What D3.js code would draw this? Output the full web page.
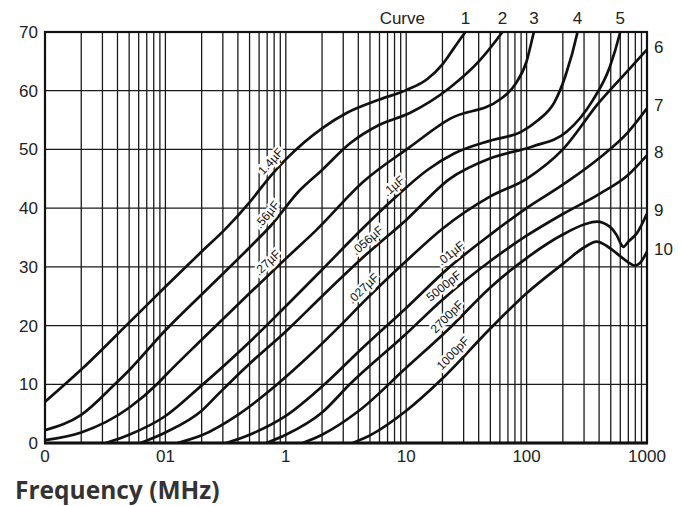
<!DOCTYPE html>
<html>
<head>
<meta charset="utf-8">
<script src="https://cdn.jsdelivr.net/npm/d3@7"></script>
<style>
  body { margin: 0; background: #fff; }
  svg { display: block; }
</style>
</head>
<body>
<div id="chart"></div>
<script>
// tick labels as printed on the original (the "0" / "01" typos are kept)
var freqTicks = [0.01, 0.1, 1, 10, 100, 1000];
var freqTickLabels = ["0", "01", "1", "10", "100", "1000"];
var dbTicks = [0, 10, 20, 30, 40, 50, 60, 70];

// curve names / capacitances
var curveNums = [1, 2, 3, 4, 5, 6, 7, 8, 9, 10];
var capLabels = ["1.4\u00b5F", ".56\u00b5F", ".27\u00b5F", ".1\u00b5F", ".056\u00b5F",
                 ".027\u00b5F", ".01\u00b5F", "5000pF", "2700pF", "1000pF"];
// frequency (MHz) on each curve next to which its capacitance label is written
var labelFreq = [0.86, 0.81, 0.8, 8.9, 5.4, 5.0, 26.4, 23.1, 24.9, 28];

// insertion loss curves: [frequency MHz, dB]
var curve1 = [[0.01,7],[0.02,12.5],[0.05,20.5],[0.1,26.6],[0.2,32.6],[0.32,36.6],[0.5,41],[0.75,45.5],[1,48.3],[2,53.6],[3.2,56.2],[6,58.5],[10,60.1],[15,62],[20,64.5],[25,67.3],[31,70],[40,73]];
var curve2 = [[0.01,2.2],[0.02,4.8],[0.038,10],[0.05,12.4],[0.1,19.2],[0.2,25.3],[0.5,33.3],[0.75,37],[1.3,43],[2,46.5],[3.4,51],[6,54.2],[10.7,56.2],[23,60.5],[41,65.2],[63,70],[80,73]];
var curve3 = [[0.01,0.5],[0.02,1.8],[0.05,6],[0.085,10],[0.1,11.5],[0.2,17.6],[0.5,25.5],[1,31.4],[1.8,36.3],[4.4,44.5],[10.7,50.4],[23,55.2],[60,58.5],[80,61],[100,65],[115,70],[130,74]];
var curve4 = [[0.032,0],[0.05,1.4],[0.1,4.6],[0.195,9.6],[0.5,17.2],[1,23.3],[2,29.5],[4,35.8],[7.8,41.5],[15,46.5],[25,49.3],[50,51.5],[90,53],[125,55],[170,58],[210,62.5],[265,70],[290,74]];
var curve5 = [[0.062,0],[0.1,1.8],[0.2,5.5],[0.28,8.5],[0.5,13.5],[1,19],[2,25],[4.6,32],[10,38],[23,45],[50,48.5],[112,50.5],[215,53],[355,58.4],[490,64],[600,70],[650,73]];
var curve6 = [[0.126,0],[0.2,1.3],[0.4,4.8],[0.85,10],[1.5,14.5],[3,20.5],[4.4,24],[10,31],[20,36.5],[50,42],[100,45],[200,50],[400,58],[700,63.5],[1000,67]];
var curve7 = [[0.32,0],[0.5,1.4],[1,4.6],[2.1,10],[4,15.5],[10,23],[23,30],[50,35.5],[100,40],[200,44],[400,48.5],[700,53],[1000,57]];
var curve8 = [[0.69,0],[1,1.4],[2,5.2],[3.4,10],[10,18.6],[20,24.4],[50,31],[100,35.3],[200,39],[400,42.4],[700,45.7],[1000,49]];
var curve9 = [[1.38,0],[2,1.4],[4,5.4],[10,12.8],[22,19.2],[50,26.5],[100,31.5],[200,35.5],[300,37.2],[382,37.7],[493,36.8],[560,35.4],[616,33.7],[636,33.4],[700,34.3],[821,35.7],[1000,39.1]];
var curve10 = [[3.6,0],[5,1.3],[10,5.5],[20,11],[50,19.5],[100,25.5],[200,30.5],[300,33.3],[382,34.3],[460,33.6],[560,32.3],[720,30.6],[790,30.2],[870,30.6],[1000,32.6]];
var curves = [curve1, curve2, curve3, curve4, curve5, curve6, curve7, curve8, curve9, curve10];

var width = 683, height = 506;
var margin = {top: 32, right: 36, bottom: 63, left: 45};
var plotW = width - margin.left - margin.right;
var plotH = height - margin.top - margin.bottom;

var svg = d3.select("#chart").append("svg")
    .attr("width", width)
    .attr("height", height);

var x = d3.scaleLog().domain([0.01, 1000]).range([margin.left, margin.left + plotW]);
var y = d3.scaleLinear().domain([0, 70]).range([margin.top + plotH, margin.top]);

svg.append("clipPath").attr("id", "plotclip")
  .append("rect")
    .attr("x", margin.left).attr("y", margin.top)
    .attr("width", plotW).attr("height", plotH);

// grid
var grid = svg.append("g").attr("stroke", "#1a1a1a").attr("stroke-width", 1.3);
grid.selectAll(".vg")
    .data(x.ticks())
    .enter().append("line")
    .attr("x1", d => x(d)).attr("x2", d => x(d))
    .attr("y1", margin.top).attr("y2", margin.top + plotH);
grid.selectAll(".hg")
    .data(dbTicks)
    .enter().append("line")
    .attr("x1", margin.left).attr("x2", margin.left + plotW)
    .attr("y1", d => y(d)).attr("y2", d => y(d));

// frame
svg.append("rect")
    .attr("x", margin.left).attr("y", margin.top)
    .attr("width", plotW).attr("height", plotH)
    .attr("fill", "none").attr("stroke", "#111").attr("stroke-width", 2.2);
svg.append("line")
    .attr("x1", margin.left - 1).attr("x2", margin.left + plotW + 1)
    .attr("y1", y(0)).attr("y2", y(0))
    .attr("stroke", "#111").attr("stroke-width", 3);

// curves
var line = d3.line()
    .x(d => x(d[0]))
    .y(d => y(d[1]))
    .curve(d3.curveMonotoneX);

svg.append("g").attr("clip-path", "url(#plotclip)")
  .selectAll("path")
    .data(curves)
    .enter().append("path")
    .attr("d", line)
    .attr("fill", "none")
    .attr("stroke", "#111")
    .attr("stroke-width", 2.7)
    .attr("stroke-linejoin", "round");

// value of a curve at frequency f (log interpolation between points)
function valueAt(c, f) {
    for (var i = 1; i < c.length; i++) {
        if (f <= c[i][0]) {
            var t = (Math.log(f) - Math.log(c[i-1][0])) / (Math.log(c[i][0]) - Math.log(c[i-1][0]));
            return c[i-1][1] + t * (c[i][1] - c[i-1][1]);
        }
    }
    return c[c.length - 1][1];
}
// frequency where a curve reaches v dB
function freqAt(c, v) {
    for (var i = 1; i < c.length; i++) {
        if (c[i][1] >= v && c[i-1][1] < v) {
            var t = (v - c[i-1][1]) / (c[i][1] - c[i-1][1]);
            return Math.exp(Math.log(c[i-1][0]) + t * (Math.log(c[i][0]) - Math.log(c[i-1][0])));
        }
    }
    return c[c.length - 1][0];
}

// capacitance labels, written along the curve just above it
var labels = svg.append("g")
    .attr("font-family", "'Liberation Sans', Arial, sans-serif")
    .attr("font-size", 12)
    .attr("fill", "#111");
curves.forEach(function(c, i) {
    var f = labelFreq[i];
    var px = x(f), py = y(valueAt(c, f));
    var px2 = x(f * 1.15), py2 = y(valueAt(c, f * 1.15));
    var a = Math.atan2(py2 - py, px2 - px);
    var off = 10; // perpendicular offset, up-left of the line
    var cx = px + off * Math.sin(a), cy = py - off * Math.cos(a);
    labels.append("text")
        .attr("transform", `translate(${cx}, ${cy}) rotate(${a * 180 / Math.PI})`)
        .attr("text-anchor", "middle")
        .attr("dy", "0.35em")
        .attr("stroke", "#fff").attr("stroke-width", 4.5)
        .attr("paint-order", "stroke")
        .text(capLabels[i]);
});

// tick labels
var tickFont = "'Liberation Sans', Arial, sans-serif";
svg.append("g").selectAll("text")
    .data(dbTicks)
    .enter().append("text")
    .attr("x", margin.left - 7)
    .attr("y", d => y(d))
    .attr("dy", "0.35em")
    .attr("text-anchor", "end")
    .attr("font-family", tickFont).attr("font-size", 17).attr("fill", "#222")
    .text(d => d);

svg.append("g").selectAll("text")
    .data(freqTicks)
    .enter().append("text")
    .attr("x", d => x(d))
    .attr("y", y(0) + 19)
    .attr("text-anchor", "middle")
    .attr("font-family", tickFont).attr("font-size", 17).attr("fill", "#222")
    .text((d, i) => freqTickLabels[i]);

// curve numbers: 1-5 on top where the curve leaves, 6-10 at the right end
svg.append("text")
    .attr("x", 425).attr("y", 24)
    .attr("text-anchor", "end")
    .attr("font-family", tickFont).attr("font-size", 17).attr("fill", "#222")
    .text("Curve");
curves.forEach(function(c, i) {
    var t = svg.append("text")
        .attr("font-family", tickFont).attr("font-size", 17).attr("fill", "#222")
        .text(curveNums[i]);
    if (i < 5) {
        t.attr("x", x(freqAt(c, 70))).attr("y", 24).attr("text-anchor", "middle");
    } else {
        t.attr("x", margin.left + plotW + 7).attr("y", y(c[c.length - 1][1]) - 3)
         .attr("dy", "0.35em");
    }
});

svg.append("text")
    .attr("x", 15).attr("y", 499)
    .attr("font-family", "'Open Sans', 'Noto Sans', sans-serif")
    .attr("font-weight", 700)
    .attr("font-size", 24.5)
    .attr("fill", "#333")
    .text("Frequency (MHz)");
</script>
</body>
</html>
